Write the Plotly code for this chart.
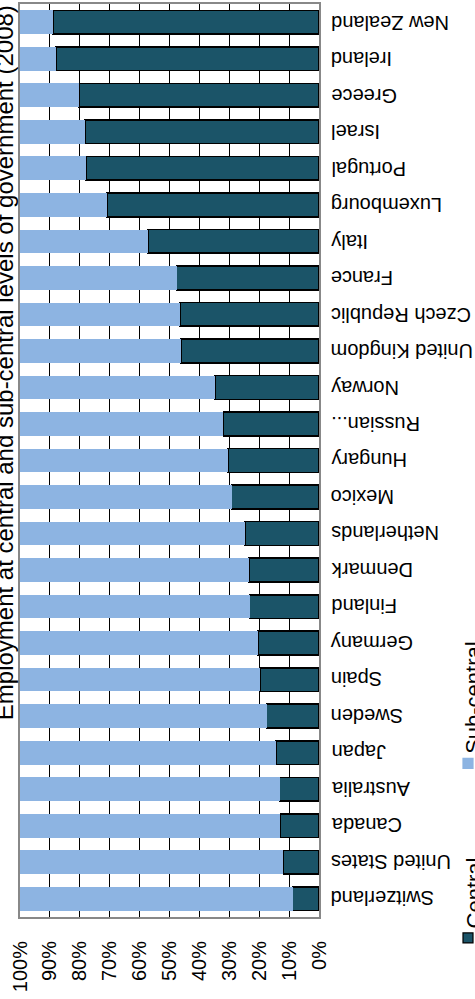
import plotly.graph_objects as go

# Share of general government employment by level (2008), percent
countries = [
    "Switzerland", "United States", "Canada", "Australia", "Japan", "Sweden",
    "Spain", "Germany", "Finland", "Denmark", "Netherlands", "Mexico",
    "Hungary", "Russian...", "Norway", "United Kingdom", "Czech Republic",
    "France", "Italy", "Luxembourg", "Portugal", "Israel", "Greece",
    "Ireland", "New Zealand",
]
central = [
    8.8, 11.9, 12.9, 13.2, 14.3, 17.5,
    19.8, 20.5, 23.2, 23.4, 24.7, 29.2,
    30.5, 32.0, 34.8, 46.2, 46.5,
    47.6, 57.2, 71.0, 77.9, 78.3, 80.2,
    88.0, 88.9,
]
sub_central = [round(100 - c, 1) for c in central]

tick_vals = list(range(0, 101, 10))
tick_text = [f"{v}%" for v in tick_vals]

title_text = "Employment at central and sub-central levels of government (2008)"
series_names = ["Central", "Sub-central"]

DARK = "#1B5468"
LIGHT = "#8DB4E2"
FONT = "Liberation Sans, Arial, sans-serif"

W, H = 475, 999
L, R, T, B = 20, 156, 2, 82


def px_x(p):
    return (p - L) / (W - L - R)


def px_y(p):
    return (H - B - p) / (H - T - B)


fig = go.Figure()
fig.add_trace(go.Bar(
    y=countries, x=central, orientation="h", name=series_names[0],
    marker=dict(color=DARK, line=dict(color="black", width=1.6)),
))
fig.add_trace(go.Bar(
    y=countries, x=sub_central, orientation="h", name=series_names[1],
    marker=dict(color=LIGHT, line=dict(width=0)),
))

annotations = [
    dict(text=title_text, textangle=-90, xref="paper", yref="paper",
         x=px_x(4), y=px_y(362), xanchor="center", yanchor="middle",
         showarrow=False, font=dict(family=FONT, size=24, color="black")),
]

# Category labels, drawn upside down beside the 0% edge
for name in countries:
    annotations.append(dict(text=name, textangle=180, xref="paper", yref="y",
                            x=px_x(329), y=name, xanchor="left", yanchor="middle",
                            showarrow=False,
                            font=dict(family=FONT, size=20, color="black")))

shapes = []
legend_items = [(series_names[0], DARK, 933), (series_names[1], LIGHT, 758)]
for name, col, top in legend_items:
    shapes.append(dict(type="rect", xref="paper", yref="paper",
                       x0=px_x(463), x1=px_x(473), y0=px_y(top + 10), y1=px_y(top),
                       fillcolor=col,
                       line=dict(color="black" if col == DARK else col, width=1.2)))
    annotations.append(dict(text=name, textangle=-90, xref="paper", yref="paper",
                            x=px_x(474), y=px_y(top - 2), xanchor="center",
                            yanchor="bottom", showarrow=False,
                            font=dict(family=FONT, size=22, color="black")))

fig.update_layout(
    width=W, height=H,
    margin=dict(l=L, r=R, t=T, b=B, pad=0),
    barmode="stack", bargap=0.35,
    showlegend=False,
    plot_bgcolor="white", paper_bgcolor="white",
    font=dict(family=FONT, color="black"),
    annotations=annotations, shapes=shapes,
    xaxis=dict(
        range=[100, 0], tickvals=tick_vals, ticktext=tick_text,
        tickangle=-90, tickfont=dict(size=20, color="black"),
        showgrid=True, gridcolor="black", gridwidth=1,
        showline=True, linecolor="#888888", linewidth=2, mirror=True,
        zeroline=False, ticks="", ticklabelstandoff=14,
    ),
    yaxis=dict(
        side="right", showticklabels=False,
        showgrid=False, showline=True, linecolor="#888888", linewidth=2,
        mirror=True, ticks="",
    ),
)

fig.write_html("out.html")
